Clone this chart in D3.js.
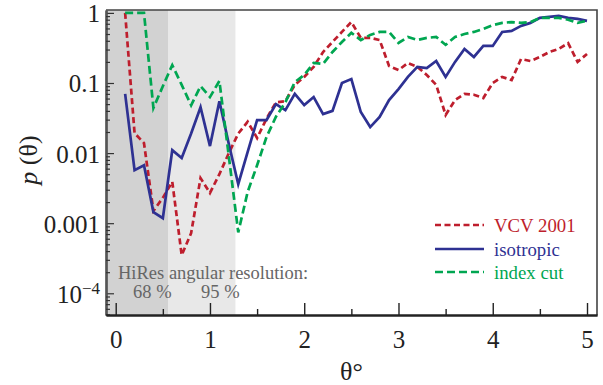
<!DOCTYPE html>
<html>
<head>
<meta charset="utf-8">
<script src="https://cdn.jsdelivr.net/npm/d3@7"></script>
<style>
  body { margin: 0; background: #fff; }
</style>
</head>
<body>
<svg id="chart" width="603" height="385"></svg>
<script>
// angular separation (degrees)
const theta = [0.1, 0.2, 0.3, 0.4, 0.5, 0.6, 0.7, 0.8, 0.9, 1.0,
               1.1, 1.2, 1.3, 1.4, 1.5, 1.6, 1.7, 1.8, 1.9, 2.0,
               2.1, 2.2, 2.3, 2.4, 2.5, 2.6, 2.7, 2.8, 2.9, 3.0,
               3.1, 3.2, 3.3, 3.4, 3.5, 3.6, 3.7, 3.8, 3.9, 4.0,
               4.1, 4.2, 4.3, 4.4, 4.5, 4.6, 4.7, 4.8, 4.9, 5.0];

const vcv = [1.0, 0.0193, 0.0139, 0.0015, 0.0023, 0.0039, 0.00035, 0.00072, 0.0044, 0.0027,
             0.005, 0.010, 0.019, 0.028, 0.0164, 0.031, 0.053, 0.055, 0.094, 0.122,
             0.17, 0.277, 0.385, 0.535, 0.74, 0.44, 0.44, 0.41, 0.175, 0.153,
             0.193, 0.17, 0.13, 0.094, 0.035, 0.057, 0.07, 0.068, 0.061, 0.1,
             0.122, 0.11, 0.22, 0.206, 0.235, 0.277, 0.306, 0.37, 0.2, 0.26];

const isotropic = [0.07, 0.0057, 0.0067, 0.00144, 0.00118, 0.011, 0.0085, 0.019, 0.045, 0.0126,
                   0.055, 0.0135, 0.0036, 0.0104, 0.0296, 0.0296, 0.05, 0.041, 0.07, 0.0485,
                   0.063, 0.036, 0.04, 0.1, 0.114, 0.0385, 0.0235, 0.0327, 0.057, 0.082,
                   0.122, 0.17, 0.163, 0.206, 0.122, 0.2, 0.306, 0.235, 0.338, 0.338,
                   0.535, 0.553, 0.652, 0.72, 0.85, 0.877, 0.906, 0.85, 0.82, 0.77];

const indexCut = [1.0, 1.0, 1.0, 0.044, 0.09, 0.18, 0.094, 0.048, 0.09, 0.063,
                  0.107, 0.009, 0.00074, 0.0028, 0.0067, 0.017, 0.033, 0.053, 0.103, 0.13,
                  0.193, 0.187, 0.277, 0.385, 0.52, 0.41, 0.485, 0.535, 0.535, 0.373,
                  0.454, 0.41, 0.44, 0.454, 0.35, 0.454, 0.5, 0.535, 0.59, 0.67,
                  0.72, 0.74, 0.72, 0.74, 0.85, 0.85, 0.85, 0.8, 0.72, 0.77];

const seriesNames = ["VCV 2001", "isotropic", "index cut"];
const seriesColors = ["#be1e2d", "#2e3192", "#00a651"];
const seriesDash = ["6,3.5", null, "8,4"];

// HiRes angular resolution (degrees)
const res68 = 0.555;
const res95 = 1.27;

const xTicks = [0, 1, 2, 3, 4, 5];
const xMinor = [0.5, 1.5, 2.5, 3.5, 4.5];
const yTicks = [1, 0.1, 0.01, 0.001, 1e-4];
const yLabels = ["1", "0.1", "0.01", "0.001", "10^-4"];

const serif = "'Liberation Serif', 'Times New Roman', Times, 'DejaVu Serif', serif";
const svg = d3.select("#chart").attr("font-family", serif);
const pl = 106, pr = 597, pt = 10, pb = 315;

const x = d3.scaleLinear().domain([-0.103, 5.106]).range([pl, pr]);
const y = d3.scaleLog().domain([4.9e-5, 1.1]).range([pb, pt]);

// shaded resolution bands
svg.append("rect")
    .attr("x", pl).attr("y", pt)
    .attr("width", x(res68) - pl).attr("height", pb - pt)
    .attr("fill", "#d2d2d2");
svg.append("rect")
    .attr("x", x(res68)).attr("y", pt)
    .attr("width", x(res95) - x(res68)).attr("height", pb - pt)
    .attr("fill", "#e8e8e8");

// frame (top, right)
svg.append("path")
    .attr("d", `M${pl},${pt}H${pr}V${pb}`)
    .attr("fill", "none").attr("stroke", "#444").attr("stroke-width", 1.6);

// series
const allSeries = [vcv, isotropic, indexCut];
const line = d3.line()
    .x((d, i) => x(theta[i]))
    .y(d => y(d));

allSeries.forEach((vals, k) => {
    svg.append("path")
        .datum(vals)
        .attr("fill", "none")
        .attr("stroke", seriesColors[k])
        .attr("stroke-width", 2.7)
        .attr("stroke-dasharray", seriesDash[k])
        .attr("stroke-linejoin", "miter")
        .attr("d", line);
});

// y axis
const minorY = [];
[-5, -4, -3, -2, -1].forEach(e => {
    [2, 3, 4, 5, 6, 7, 8, 9].forEach(m => {
        const v = m * Math.pow(10, e);
        if (v > 4.9e-5 && v < 1.1) minorY.push(v);
    });
});

const yAxis = svg.append("g")
    .attr("transform", `translate(${pl},0)`)
    .call(d3.axisLeft(y).tickValues(yTicks).tickSizeInner(-8).tickSizeOuter(0)
        .tickPadding(6).tickFormat((d, i) => yLabels[i]))
    .attr("font-family", serif);
yAxis.append("g")
    .call(d3.axisLeft(y).tickValues(minorY).tickSizeInner(-4).tickSizeOuter(0).tickFormat(""));
yAxis.selectAll("path.domain").attr("stroke", "#555").attr("stroke-width", 2.2);
yAxis.selectAll("line").attr("stroke", "#333").attr("stroke-width", 1.2);
yAxis.selectAll(".tick text")
    .attr("font-size", 25).attr("fill", "#222").attr("dy", "0.36em")
    .each(function (d, i) {
        if (yLabels[i] === "10^-4") {
            const t = d3.select(this).text("");
            t.append("tspan").text("10");
            t.append("tspan").attr("font-size", 17).attr("dy", "-9").text("\u22124");
        }
    });

// x axis
const xAxis = svg.append("g")
    .attr("transform", `translate(0,${pb})`)
    .call(d3.axisBottom(x).tickValues(xTicks).tickSizeInner(-12).tickSizeOuter(0)
        .tickPadding(15).tickFormat(d3.format("d")))
    .attr("font-family", serif);
xAxis.append("g")
    .call(d3.axisBottom(x).tickValues(xMinor).tickSizeInner(-6).tickSizeOuter(0).tickFormat(""));
xAxis.selectAll("path.domain").attr("stroke", "#222").attr("stroke-width", 2.2);
xAxis.selectAll("line").attr("stroke", "#222").attr("stroke-width", 1.4);
xAxis.selectAll(".tick text").attr("font-size", 25).attr("fill", "#222");

// axis titles
svg.append("text")
    .attr("x", x(2.5)).attr("y", 380)
    .attr("text-anchor", "middle").attr("font-size", 26).attr("fill", "#222")
    .text("\u03b8\u00b0");
const yt = svg.append("text")
    .attr("transform", "translate(37,160) rotate(-90)")
    .attr("text-anchor", "middle").attr("font-size", 26).attr("fill", "#222");
yt.append("tspan").attr("font-style", "italic").text("p");
yt.append("tspan").text(" (\u03b8)");

// resolution annotation
const note = svg.append("g").attr("fill", "#666").attr("font-size", 18.5);
note.append("text").attr("x", 118).attr("y", 279).text("HiRes angular resolution:");
note.append("text").attr("x", 133).attr("y", 298).text("68 %");
note.append("text").attr("x", 201).attr("y", 298).text("95 %");

// legend
const legY = [225, 249, 272];
const leg = svg.append("g");
seriesNames.forEach((name, k) => {
    leg.append("line")
        .attr("x1", 435).attr("x2", 484)
        .attr("y1", legY[k]).attr("y2", legY[k])
        .attr("stroke", seriesColors[k]).attr("stroke-width", 2.6)
        .attr("stroke-dasharray", seriesDash[k]);
    leg.append("text")
        .attr("x", 494).attr("y", legY[k] + 7)
        .attr("font-size", 18.8).attr("fill", seriesColors[k])
        .text(name);
});
</script>
</body>
</html>
